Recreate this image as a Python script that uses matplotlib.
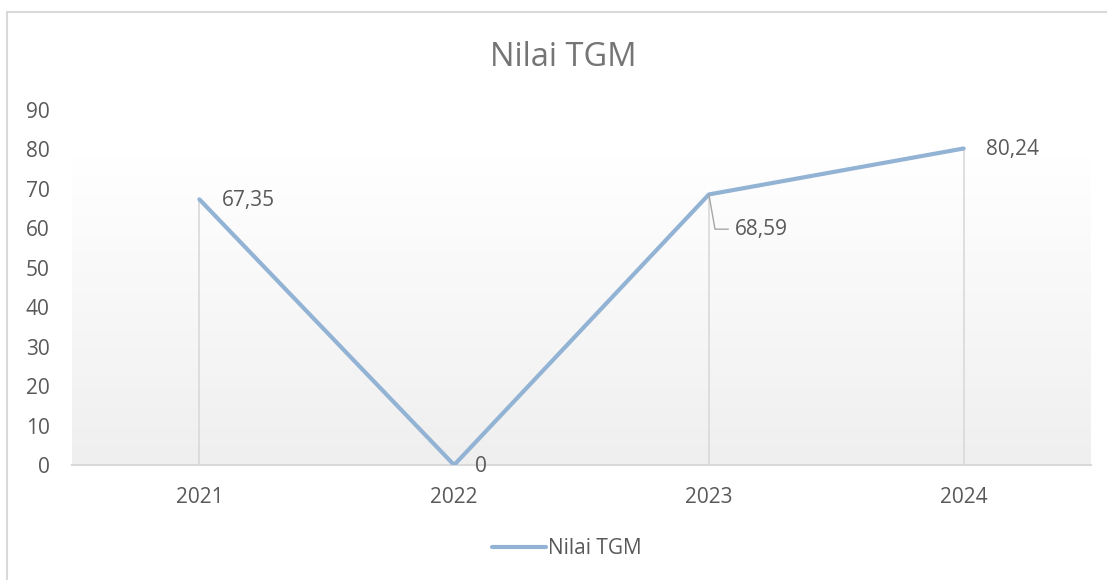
import matplotlib.pyplot as plt
import numpy as np
from matplotlib.patches import Rectangle
from matplotlib.colors import LinearSegmentedColormap

plt.rcParams['font.family'] = ['Open Sans', 'DejaVu Sans']

# data
years = ['2021', '2022', '2023', '2024']
tgm_values = [67.35, 0, 68.59, 80.24]
value_labels = ['67,35', '0', '68,59', '80,24']
y_ticks = [0, 10, 20, 30, 40, 50, 60, 70, 80, 90]

line_color = '#93B3D5'
text_color = '#595959'
grid_color = '#d9d9d9'

fig = plt.figure(figsize=(11.07, 5.80), dpi=100)
ax = fig.add_axes([72 / 1107, 1 - 465 / 580, (1091 - 72) / 1107, (465 - 110) / 580])

x = np.arange(len(years))

# gradient background in the plot area (white on top, light grey at the bottom)
grad = np.linspace(0, 1, 256).reshape(-1, 1)
bg_cmap = LinearSegmentedColormap.from_list('bg', ['#ffffff', '#efefef'])
ax.imshow(grad, cmap=bg_cmap, extent=[-0.5, 3.5, 0, 78], aspect='auto',
          origin='upper', zorder=0)

# drop lines
ax.vlines(x, 0, tgm_values, color=grid_color, linewidth=1.2, zorder=1)

ax.plot(x, tgm_values, color=line_color, linewidth=3.0, solid_capstyle='round',
        solid_joinstyle='round', label='Nilai TGM', zorder=3)

ax.set_xlim(-0.5, 3.5)
ax.set_ylim(0, 90)
ax.set_xticks(x)
ax.set_xticklabels(years)
ax.set_yticks(y_ticks)
ax.tick_params(axis='both', length=0, labelsize=15, colors=text_color)
ax.tick_params(axis='y', pad=16)
ax.tick_params(axis='x', pad=16)
for s in ['top', 'right', 'left']:
    ax.spines[s].set_visible(False)
ax.spines['bottom'].set_color(grid_color)
ax.spines['bottom'].set_linewidth(1.5)

# data labels
offsets = [(16, -1), (15, -1), (19, -25), (16, -1)]
for i, (val, lab) in enumerate(zip(tgm_values, value_labels)):
    if i == 2:
        ax.annotate(lab, xy=(x[i], val), xytext=offsets[i], textcoords='offset points',
                    ha='left', va='center', fontsize=15, color=text_color,
                    arrowprops=dict(arrowstyle='-', color='#a6a6a6', lw=1.0,
                                    shrinkA=3, shrinkB=0,
                                    connectionstyle='angle,angleA=180,angleB=100,rad=0'))
    else:
        ax.annotate(lab, xy=(x[i], val), xytext=offsets[i], textcoords='offset points',
                    ha='left', va='center', fontsize=15, color=text_color)

fig.text(563 / 1107, 1 - 57 / 580, 'Nilai TGM', ha='center', va='center',
         fontsize=23.5, color='#757575')

fig.legend(loc='center', bbox_to_anchor=(567 / 1107, 1 - 549 / 580), frameon=False,
           fontsize=15, handlelength=2.6, handletextpad=0.1, labelcolor=text_color)

# chart border
fig.patches.append(Rectangle((7 / 1107, -0.05), 1.2, 1 - 12 / 580 + 0.05,
                             transform=fig.transFigure, fill=False,
                             edgecolor=grid_color, linewidth=1.5))

fig.savefig('out.png', dpi=100)
